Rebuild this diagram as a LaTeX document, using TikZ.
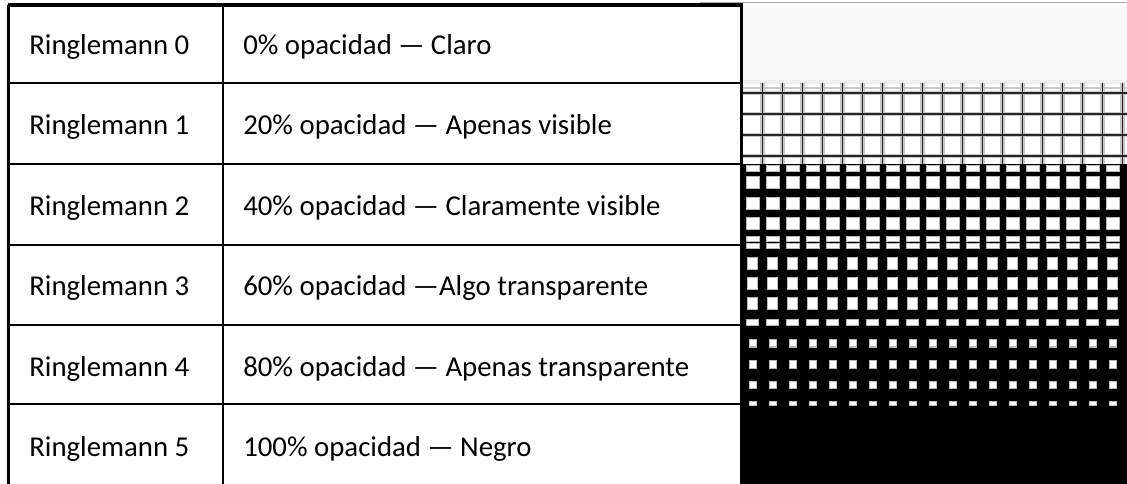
\documentclass[tikz,border=0pt]{standalone}
\usepackage{fontspec}
\setmainfont{Carlito}
\begin{document}
\begin{tikzpicture}[x=0.75pt,y=-0.75pt,
  tline/.style={black,line width=1.6pt},
  txt/.style={anchor=base west,inner sep=0pt,font=\fontsize{21.6}{26}\selectfont},
  gridhalo/.style={gray!45,line width=3.4pt},
  gridcore/.style={black!85,line width=1.2pt},
  sq/.style={fill=white,draw=gray!55,line width=0.75pt}]
\useasboundingbox (0,0) rectangle (1127,484);
\fill[white] (0,0) rectangle (1127,484);
% ---- chart image on the right ----
\fill[gray!3] (741,3) rectangle (1127,83);
\draw[gray!65,line width=1.2pt] (700,2.5) -- (1127,2.5);
\fill[white] (741,83) rectangle (1127,164);
\fill[gray!12] (741,80) rectangle (1127,84);
% section 1: thin grid
\draw[gray!40,line width=1.5pt] (741,88) -- (1127,88);
\foreach \y in {93,114,135,156} {
  \draw[gridhalo] (741,\y) -- (1127,\y);
}
\foreach \k in {1,...,19} {
  \draw[gridhalo] ({742.5+20*\k},83) -- ({742.5+20*\k},164);
}
\foreach \y in {93,114,135,156} {
  \draw[gridcore] (741,\y) -- (1127,\y);
}
\foreach \k in {1,...,19} {
  \draw[gridcore] ({742.5+20*\k},83) -- ({742.5+20*\k},164);
}
% sections 2-5: black with white holes
\fill[black] (741,164) rectangle (1127,484);
\foreach \ya/\yb/\w in {166/172/13, 177/189/13, 198/210/13, 218/230/13, 237/242/13, 244/249/13,
                        258/270/10, 278/290/10, 298/310/10, 320/326/12,
                        340/347/7, 360/368/7, 381/388/7, 401/405/7} {
  \foreach \k in {0,...,18} {
    \filldraw[sq] ({752.5+20*\k-\w/2},\ya) rectangle ({752.5+20*\k+\w/2},\yb);
  }
}
% ---- table ----
\draw[black,line width=2.4pt] (8,5) -- (742.5,5);
\draw[tline] (8.5,5) -- (8.5,484);
\draw[tline] (223,5) -- (223,484);
\draw[tline] (741.5,5) -- (741.5,484);
\foreach \y in {83,164,245,325,404} {
  \draw[tline] (8,\y) -- (741,\y);
}
% ---- texts ----
\node[txt] (r0) at (29,55) {Ringlemann 0};
\node[txt] (r1) at (29,135) {Ringlemann 1};
\node[txt] (r2) at (29,216) {Ringlemann 2};
\node[txt] (r3) at (29,296) {Ringlemann 3};
\node[txt] (r4) at (29,376) {Ringlemann 4};
\node[txt] (r5) at (29,456) {Ringlemann 5};
\node[txt] (d0) at (243,55) {0\% opacidad — Claro};
\node[txt] (d1) at (243,135) {20\% opacidad — Apenas visible};
\node[txt] (d2) at (243,216) {40\% opacidad — Claramente visible};
\node[txt] (d3) at (243,296) {60\% opacidad —Algo transparente};
\node[txt] (d4) at (243,376) {80\% opacidad — Apenas transparente};
\node[txt] (d5) at (243,456) {100\% opacidad — Negro};
\end{tikzpicture}
\end{document}
